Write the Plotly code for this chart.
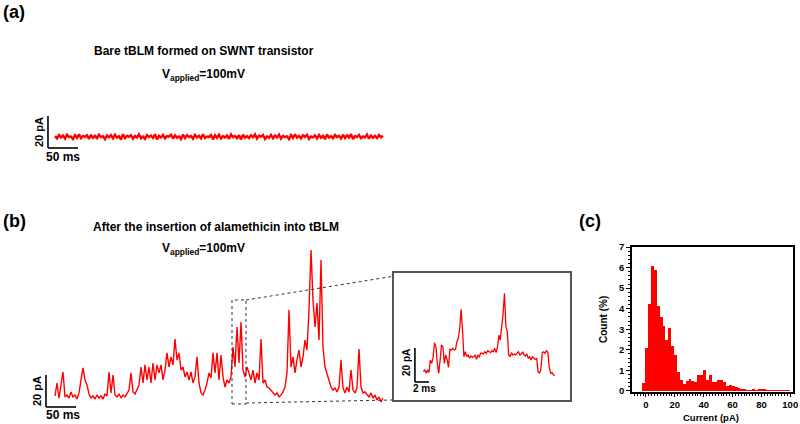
import numpy as np
import plotly.graph_objects as go

FONT = "Liberation Sans, Arial, sans-serif"
RED = "#ff0000"

# ---------------- data ----------------
# (a) bare tBLM trace, current in pA, sampled every DT ms
DT_TRACE = 10.0 / 3.0
trace_a_pA = [
    7.4, 6.0, 8.1, 6.6, 7.8, 5.9, 8.3, 6.9, 7.2, 5.6,
    8.0, 6.4, 8.5, 6.1, 7.5, 7.0, 7.9, 5.7, 8.2, 6.3,
    7.6, 6.2, 8.4, 6.8, 7.3, 5.5, 7.9, 6.7, 8.0, 6.0,
    8.3, 6.5, 7.4, 5.3, 8.6, 6.2, 7.7, 7.0, 8.1, 5.8,
    7.5, 6.6, 8.5, 6.1, 7.2, 5.7, 8.0, 6.9, 7.8, 6.3,
    8.6, 5.4, 7.6, 6.5, 8.2, 6.0, 7.4, 7.1, 8.3, 5.9,
    7.9, 6.4, 7.3, 5.6, 8.4, 6.2, 8.0, 6.8, 7.5, 5.8,
    8.2, 6.6, 7.7, 6.0, 8.6, 6.3, 7.2, 6.9, 8.1, 5.4,
    7.9, 6.3, 8.3, 6.0, 7.4, 6.6, 7.8, 5.7, 8.5, 6.8,
    7.5, 6.1, 8.0, 5.3, 8.3, 6.4, 7.4, 6.2, 7.9, 6.7,
    8.5, 5.9, 7.7, 7.0, 8.1, 5.6, 7.3, 6.4, 8.2, 6.1,
    7.8, 6.6, 8.4, 5.8, 7.6, 6.9, 7.3, 5.5, 8.1, 6.3,
    8.6, 6.5, 7.5, 6.0, 8.0, 7.0, 8.3, 5.7, 7.2, 6.7,
    7.9, 6.0, 8.2, 6.4, 7.7, 5.5, 8.5, 6.5, 7.4, 6.1,
    8.1, 6.8, 7.6, 5.9, 8.3, 6.2, 7.9, 6.6, 8.6, 5.6,
    7.5, 6.9, 8.2, 6.1, 7.2, 6.6, 8.4, 5.8, 7.8, 6.4,
    7.5, 6.2, 8.1, 6.7, 7.6,
]

# (b) after alamethicin insertion, current in pA
trace_b_pA = [
    6.9, 15.0, 5.6, 12.5, 21.9, 6.3, 7.5, 5.6, 9.4, 6.3,
    7.5, 5.0, 8.8, 16.9, 24.4, 16.9, 13.8, 8.1, 5.6, 6.9,
    5.0, 7.5, 5.6, 6.9, 5.0, 8.1, 6.9, 21.9, 8.8, 20.0,
    7.5, 6.3, 8.1, 5.6, 7.5, 6.3, 8.8, 10.6, 21.3, 9.4,
    8.1, 10.6, 13.8, 25.0, 15.0, 26.3, 16.9, 25.0, 15.0, 27.5,
    16.9, 26.3, 21.3, 26.3, 16.9, 23.1, 33.8, 25.0, 31.3, 26.3,
    42.5, 29.4, 33.8, 23.1, 25.0, 18.8, 21.9, 16.9, 21.9, 15.0,
    18.8, 31.3, 15.0, 8.8, 7.5, 10.6, 15.0, 21.3, 18.1, 33.8,
    21.3, 33.8, 16.9, 32.5, 18.8, 12.5, 16.9, 15.0, 18.8, 37.5,
    25.0, 50.0, 27.5, 53.1, 23.1, 18.8, 25.0, 21.3, 16.9, 23.1,
    15.0, 21.3, 16.9, 42.5, 15.0, 16.9, 12.5, 11.9, 10.6, 9.4,
    7.5, 8.8, 6.3, 7.5, 9.4, 12.5, 21.3, 60.6, 25.0, 31.3,
    21.3, 29.4, 35.6, 25.0, 31.3, 41.9, 35.6, 60.6, 98.1, 66.9,
    50.0, 65.0, 41.9, 91.9, 37.5, 25.0, 21.3, 16.9, 12.5, 10.6,
    11.9, 9.4, 12.5, 29.4, 11.9, 8.8, 12.5, 9.4, 23.1, 10.6,
    8.8, 11.9, 36.3, 12.5, 8.8, 9.4, 7.5, 6.3, 8.8, 5.6,
    7.5, 4.4, 6.3, 3.1, 5.6,
]

# zoomed inset, current in pA sampled every 0.2 ms
DT_INSET = 0.2
inset_pA = [
    6.1, 7.1, 5.1, 7.1, 5.5, 12.9, 11.0, 14.5, 23.1, 20.8,
    11.0, 5.1, 12.9, 21.8, 20.8, 11.0, 15.9, 13.3, 8.6, 19.2,
    18.8, 19.8, 18.8, 19.2, 23.7, 25.7, 31.6, 42.7, 30.6, 14.9,
    17.8, 14.9, 15.9, 14.0, 15.3, 14.5, 14.9, 15.9, 13.3, 15.9,
    14.9, 16.9, 16.9, 16.5, 17.8, 16.9, 18.4, 17.8, 17.3, 18.4,
    17.8, 19.8, 17.3, 20.8, 27.6, 24.7, 31.0, 40.4, 52.2, 32.5,
    29.6, 15.9, 14.9, 17.3, 15.9, 16.5, 15.9, 16.9, 17.8, 15.9,
    16.5, 17.8, 15.9, 15.3, 16.5, 14.0, 14.9, 12.9, 14.9, 14.0,
    13.3, 14.0, 6.1, 5.1, 7.5, 17.3, 17.8, 16.9, 18.4, 17.3,
    8.6, 5.1, 5.5, 4.1, 4.1,
]

# (c) histogram: 2 pA bins, first bin centred at -1.5 pA
HIST_FIRST_CENTER = -1.5
HIST_BIN_WIDTH = 2.0
hist_count_pct = [
    0.4, 2.1, 4.25, 6.1, 5.9, 4.15, 3.6, 3.15, 2.5, 3.05,
    2.2, 1.75, 0.9, 0.55, 0.33, 0.48, 0.57, 0.48, 0.44, 0.8,
    0.8, 1.04, 0.52, 0.8, 0.44, 0.44, 0.52, 0.52, 0.44, 0.26,
    0.31, 0.26, 0.2, 0.15, 0.1, 0.05, 0.04, 0.04, 0.06, 0.04,
    0.08, 0.06, 0.1, 0.04, 0.03, 0.03, 0.03, 0.02, 0.02, 0.02, 0.02,
]
hist_x_ticks = [0, 20, 40, 60, 80, 100]
hist_y_ticks = [0, 1, 2, 3, 4, 5, 6, 7]

# zoom window (ms / pA) in trace (b)
ZOOM_T0, ZOOM_T1 = 295.0, 318.3
ZOOM_I0, ZOOM_I1 = 1.9, 66.9

# ---------------- figure ----------------
t_a = np.arange(len(trace_a_pA)) * DT_TRACE
t_b = np.arange(len(trace_b_pA)) * DT_TRACE
t_in = np.arange(len(inset_pA)) * DT_INSET
hist_x = HIST_FIRST_CENTER + HIST_BIN_WIDTH * np.arange(len(hist_count_pct))

W, H = 800, 424


def px(x):
    return x / W


def py(y):
    return (H - y) / H


fig = go.Figure()
fig.add_trace(go.Scatter(x=t_a, y=trace_a_pA, mode="lines",
                         line=dict(color=RED, width=2.4),
                         xaxis="x", yaxis="y", showlegend=False, hoverinfo="skip"))
fig.add_trace(go.Scatter(x=t_b, y=trace_b_pA, mode="lines",
                         line=dict(color=RED, width=1.4),
                         xaxis="x2", yaxis="y2", showlegend=False, hoverinfo="skip"))
fig.add_trace(go.Scatter(x=t_in, y=inset_pA, mode="lines",
                         line=dict(color=RED, width=1.3),
                         xaxis="x3", yaxis="y3", showlegend=False, hoverinfo="skip"))
fig.add_trace(go.Bar(x=hist_x, y=hist_count_pct, width=HIST_BIN_WIDTH,
                     marker=dict(color=RED, line=dict(width=0)),
                     xaxis="x4", yaxis="y4", showlegend=False, hoverinfo="skip"))

hidden = dict(visible=False, fixedrange=True, automargin=False)
boxed = dict(showline=True, mirror=True, showgrid=False, zeroline=False,
             fixedrange=True, automargin=False)
tickf = dict(size=9.5, family=FONT, color="black", weight="bold")
fig.update_layout(
    template="none",
    width=W, height=H,
    margin=dict(l=0, r=0, t=0, b=0, autoexpand=False),
    paper_bgcolor="white", plot_bgcolor="rgba(0,0,0,0)",
    bargap=0,
    font=dict(family=FONT, color="black"),
    xaxis=dict(domain=[px(40), px(390)], range=[-25, 558.33], anchor="y", **hidden),
    yaxis=dict(domain=[py(160), py(100)], range=[-7.5, 30], anchor="x", **hidden),
    xaxis2=dict(domain=[px(40), px(390)], range=[-25, 558.33], anchor="y2", **hidden),
    yaxis2=dict(domain=[py(415), py(240)], range=[-5, 104.375], anchor="x2", **hidden),
    xaxis3=dict(domain=[px(394), px(570)], range=[-4.19, 20.96], anchor="y3",
                linecolor="#555", linewidth=1.5, showticklabels=False, ticks="", **boxed),
    yaxis3=dict(domain=[py(400), py(273)], range=[-10.59, 64.12], anchor="x3",
                linecolor="#555", linewidth=1.5, showticklabels=False, ticks="", **boxed),
    xaxis4=dict(domain=[px(632), px(793)], range=[-9.7, 101.9], anchor="y4",
                linecolor="black", linewidth=1.5,
                tickvals=hist_x_ticks, ticks="outside", ticklen=3, tickwidth=1.2,
                tickcolor="black",
                minor=dict(dtick=2, ticks="outside", ticklen=2, tickwidth=1, tickcolor="black"),
                tickfont=tickf, **boxed),
    yaxis4=dict(domain=[py(392), py(247)], range=[-0.05, 7], anchor="x4",
                linecolor="black", linewidth=1.5,
                tickvals=hist_y_ticks, ticks="outside", ticklen=4, tickwidth=1.2,
                tickcolor="black",
                minor=dict(dtick=0.2, ticks="outside", ticklen=2, tickwidth=1, tickcolor="black"),
                tickfont=tickf, **boxed),
)

shapes = []
# scale bars
for xr, yr, tx0, tx1, iy1 in [("x", "y", -11.7, 38.3, 20), ("x2", "y2", -15, 35, 20),
                              ("x3", "y3", -1.2, 0.8, 20)]:
    shapes.append(dict(type="line", xref=xr, yref=yr, x0=tx0, x1=tx0, y0=0, y1=iy1,
                       line=dict(color="black", width=1.6)))
    shapes.append(dict(type="line", xref=xr, yref=yr, x0=tx0, x1=tx1, y0=0, y1=0,
                       line=dict(color="black", width=1.6)))
# zoom box on (b)
shapes.append(dict(type="rect", xref="x2", yref="y2", x0=ZOOM_T0, x1=ZOOM_T1,
                   y0=ZOOM_I0, y1=ZOOM_I1, line=dict(color="#333", width=1, dash="dot")))
# connector lines
shapes.append(dict(type="line", xref="paper", yref="paper", x0=px(246), y0=py(300),
                   x1=px(392), y1=py(276.5), line=dict(color="#333", width=1, dash="dot")))
shapes.append(dict(type="line", xref="paper", yref="paper", x0=px(246), y0=py(403),
                   x1=px(392), y1=py(400), line=dict(color="#333", width=1, dash="dot")))
fig.update_layout(shapes=shapes)


def ann(text, x, y, size, angle=0):
    return dict(text=text, x=px(x), y=py(y), xref="paper", yref="paper",
                showarrow=False, xanchor="center", yanchor="middle", textangle=angle,
                font=dict(size=size, family=FONT, color="black"))


V_TXT = "<b>V<sub>applied</sub>=100mV</b>"
annotations = [
    ann("<b>(a)</b>", 14, 12, 18),
    ann("<b>Bare tBLM formed on SWNT transistor</b>", 203.5, 51, 12),
    ann(V_TXT, 203.5, 75, 12),
    ann("<b>20 pA</b>", 39, 132, 11, -90),
    ann("<b>50 ms</b>", 63, 157, 12),
    ann("<b>(b)</b>", 14, 221, 18),
    ann("<b>After the insertion of alamethicin into tBLM</b>", 216, 227, 12),
    ann(V_TXT, 203.5, 249, 12),
    ann("<b>20 pA</b>", 37, 391, 11, -90),
    ann("<b>50 ms</b>", 63, 415, 12),
    ann("<b>20 pA</b>", 406, 362, 10, -90),
    ann("<b>2 ms</b>", 424, 388, 10),
    ann("<b>(c)</b>", 590, 221, 18),
    ann("<b>Count (%)</b>", 603, 320, 10, -90),
    ann("<b>Current (pA)</b>", 711, 417.5, 9.5),
]
fig.update_layout(annotations=annotations)

fig.write_html(
    "out.html",
    config={"displayModeBar": False},
    post_script="document.body.style.margin='0';document.body.style.padding='0';"
                "document.documentElement.style.overflow='hidden';",
)
